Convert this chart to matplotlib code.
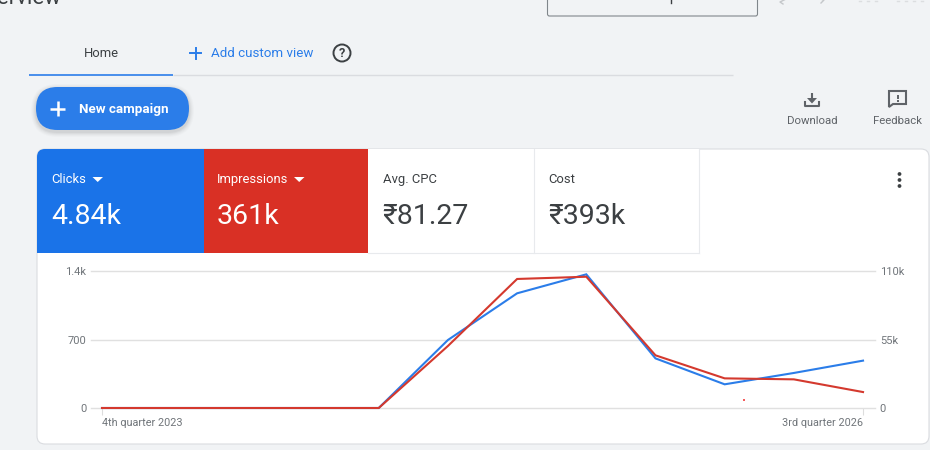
import matplotlib
matplotlib.use("Agg")
import matplotlib.pyplot as plt
from matplotlib.patches import FancyBboxPatch, Rectangle, Circle, Polygon

plt.rcParams['font.family'] = ['Roboto', 'Noto Sans', 'DejaVu Sans']

quarters = ["4th quarter 2023", "1st quarter 2024", "2nd quarter 2024", "3rd quarter 2024",
            "4th quarter 2024", "1st quarter 2025", "2nd quarter 2025", "3rd quarter 2025",
            "4th quarter 2025", "1st quarter 2026", "2nd quarter 2026", "3rd quarter 2026"]
clicks = [0, 0, 0, 0, 0, 695, 1172, 1366, 507, 242, 358, 484]
impressions = [0, 0, 0, 0, 0, 49800, 103600, 105400, 42300, 23800, 23000, 12800]
clicks_ticks = [0, 700, 1400]
clicks_tick_labels = ["0", "700", "1.4k"]
impr_ticks = [0, 55000, 110000]
impr_tick_labels = ["0", "55k", "110k"]
tile_labels = ["Clicks", "Impressions", "Avg. CPC", "Cost"]
tile_values = ["4.84k", "361k", "₹81.27", "₹393k"]

BG = '#f1f3f5'
BLUE = '#1a73e8'
RED = '#d93025'
BTN = '#2b7de9'
DARK = '#3c4043'
GREY = '#70757a'
LINE = '#dadce0'

fig = plt.figure(figsize=(9.3, 4.5), dpi=100, facecolor=BG)

# page furniture, drawn in pixel coordinates
ui = fig.add_axes([0, 0, 1, 1])
ui.set_xlim(0, 930)
ui.set_ylim(450, 0)
ui.axis('off')

# the page title is cut by the top of the screenshot
ui.text(62, 3.5, "Overview", fontsize=16, color=DARK, ha='right', va='baseline')

# date box and the cut off pager at the top
box = FancyBboxPatch((547.5, -20), 210, 36, boxstyle="round,pad=0,rounding_size=2",
                     fc='none', ec='#80868b', lw=0.8)
ui.add_patch(box)
ui.plot([671, 671], [0, 3], color=DARK, lw=1)
ui.plot([786, 780, 783], [-1, 2, 4], color='#c4c7ca', lw=1)
ui.plot([820, 824, 821], [-1, 0, 3], color='#c4c7ca', lw=1)
for px in [859, 867, 875, 897, 905, 913, 921]:
    ui.plot([px, px + 2], [0.5, 0.5], color='#dcdee0', lw=1)

# tabs
ui.text(101, 53.5, "Home", fontsize=9.4, color=DARK, ha='center', va='center')
ui.plot([29, 173], [75, 75], color=BLUE, lw=1.1, solid_capstyle='butt')
ui.plot([173, 733], [75.3, 75.3], color=LINE, lw=1, solid_capstyle='butt')
ui.plot([190, 201], [53, 53], color=BTN, lw=1.4)
ui.plot([195.5, 195.5], [47.5, 58.5], color=BTN, lw=1.4)
ui.text(211, 53.5, "Add custom view", fontsize=9.6, color=BTN, ha='left', va='center')
ui.add_patch(Circle((342, 53), 8.5, fc='none', ec=DARK, lw=1.4))
ui.text(342, 53.3, "?", fontsize=9, color=DARK, ha='center', va='center', fontweight='bold')

# new campaign button with a soft shadow
for grow, alpha in [(5, 0.015), (4, 0.02), (3, 0.025), (2, 0.03), (1, 0.04)]:
    ui.add_patch(FancyBboxPatch((36 - grow, 87 + 2 - grow), 153 + 2 * grow, 43 + 2 * grow,
                                boxstyle=f"round,pad=0,rounding_size={21.5 + grow}",
                                fc='black', ec='none', alpha=alpha))
ui.add_patch(FancyBboxPatch((36, 87), 153, 43, boxstyle="round,pad=0,rounding_size=21.5",
                            fc=BTN, ec='none'))
ui.plot([50, 65], [108.5, 108.5], color='white', lw=1.8, solid_capstyle='butt')
ui.plot([57.5, 57.5], [101, 116], color='white', lw=1.8, solid_capstyle='butt')
ui.text(79, 109.5, "New campaign", fontsize=9.6, color='white', ha='left', va='center',
        fontweight='bold')

# download and feedback
ui.plot([812, 812], [93, 102], color='#5f6368', lw=1.5, solid_capstyle='butt')
ui.add_patch(Polygon([[807, 98], [817, 98], [812, 103.5]], fc='#5f6368', ec='none'))
ui.plot([805, 805, 819, 819], [102, 105.5, 105.5, 102], color='#5f6368', lw=1.5)
ui.text(812, 120.5, "Download", fontsize=8.2, color='#5f6368', ha='center', va='center')
ui.add_patch(Polygon([[889, 91], [906, 91], [906, 104], [893, 104], [889, 107]],
                     fc='none', ec='#5f6368', lw=1.5))
ui.plot([897.5, 897.5], [94.5, 98.5], color='#5f6368', lw=1.4, solid_capstyle='butt')
ui.plot([897.5, 897.5], [100, 101.5], color='#5f6368', lw=1.4, solid_capstyle='butt')
ui.text(897, 120.5, "Feedback", fontsize=8.2, color='#5f6368', ha='center', va='center')

# card and scorecards
card = FancyBboxPatch((37, 149), 892, 295, boxstyle="round,pad=0,rounding_size=8",
                      fc='white', ec=LINE, lw=0.8)
ui.add_patch(card)
tile_edges = [37, 203.5, 368, 533.5, 698.5]
tile_fills = [BLUE, RED, 'white', 'white']
tile_text_x = [51.5, 216.5, 382.5, 548]
for i in range(4):
    r = Rectangle((tile_edges[i], 149), tile_edges[i + 1] - tile_edges[i], 104,
                  fc=tile_fills[i], ec='none')
    ui.add_patch(r)
    r.set_clip_path(card)
    txt = 'white' if i < 2 else DARK
    ui.text(tile_text_x[i], 179.5, tile_labels[i], fontsize=9.4, color=txt, ha='left', va='center')
    ui.text(tile_text_x[i], 216, tile_values[i], fontsize=20.5, color=txt, ha='left', va='center')
ui.plot([368, 698.5], [253, 253], color='#e8eaed', lw=0.8)
ui.plot([533.5, 533.5], [149, 253], color='#e8eaed', lw=0.8)
ui.plot([698.5, 698.5], [149, 253], color='#e8eaed', lw=0.8)
ui.add_patch(Polygon([[92.5, 177], [103, 177], [97.7, 182]], fc='white', ec='none'))
ui.add_patch(Polygon([[294, 177], [304.5, 177], [299.2, 182]], fc='white', ec='none'))
for py in [174, 180, 186]:
    ui.add_patch(Circle((899.5, py), 1.9, fc=DARK, ec='none'))
ui.add_patch(Circle((744, 400), 0.9, fc='#f00000', ec='none'))

# chart, left axis clicks and right axis impressions
ax = fig.add_axes([91 / 930, (450 - 408) / 450, 784 / 930, 137 / 450])
ax.patch.set_alpha(0)
ax2 = ax.twinx()
x = list(range(len(quarters)))
ax.plot(x, clicks, color='#2b7de9', lw=1.5, solid_joinstyle='miter', clip_on=False)
ax2.plot(x, impressions, color='#d4392e', lw=1.5, solid_joinstyle='miter', clip_on=False)
ax.set_xlim(-0.159, 11.173)
ax.set_ylim(0, 1400)
ax2.set_ylim(0, 110000)
ax.set_yticks(clicks_ticks, clicks_tick_labels)
ax2.set_yticks(impr_ticks, impr_tick_labels)
ax.yaxis.grid(True, color='#e0e0e0', lw=1, clip_on=False)
ax.set_axisbelow(True)
for a in (ax, ax2):
    for s in a.spines.values():
        s.set_visible(False)
    a.tick_params(axis='y', length=0, labelsize=8, labelcolor=GREY, pad=3.5)
ax.set_xticks([0, 11], [quarters[0], quarters[-1]])
ax.tick_params(axis='x', length=5, width=0.8, color='#dddddd', labelsize=7.8,
               labelcolor=GREY, pad=2.2)
labs = ax.get_xticklabels()
labs[0].set_ha('left')
labs[1].set_ha('right')

fig.savefig("out.png", dpi=100, facecolor=BG)
